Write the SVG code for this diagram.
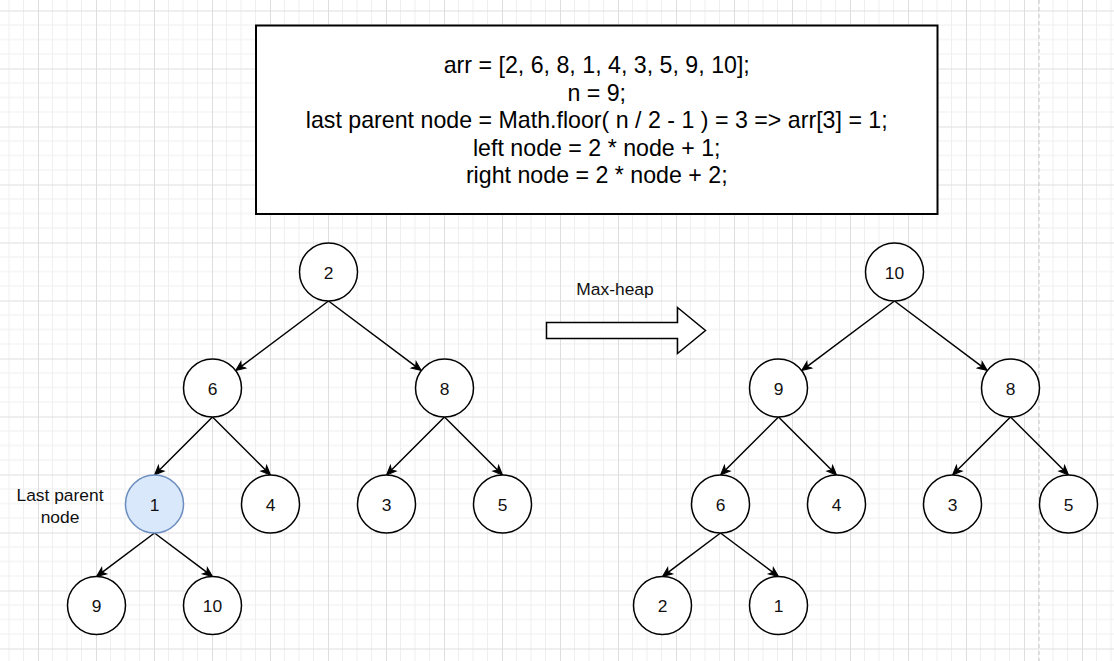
<svg xmlns="http://www.w3.org/2000/svg" width="1114" height="661" viewBox="0 0 1114 661">
<style>
.node circle{fill:#fff;stroke:#000;stroke-width:1.5}
.node text{font-family:"Liberation Sans",Arial,sans-serif;font-size:17.4px;fill:#111;text-anchor:middle}
.edge{stroke:#000;stroke-width:1.5;fill:none;marker-end:url(#arr)}
.lbl{font-family:"Liberation Sans",Arial,sans-serif;font-size:17.4px;fill:#111;text-anchor:middle}
.code{font-family:"Liberation Sans",Arial,sans-serif;font-size:23.2px;fill:#000;text-anchor:middle}
</style>
<defs>
<pattern id="grid" patternUnits="userSpaceOnUse" x="38" y="10.5" width="58" height="58">
<rect width="58" height="58" fill="#fff"/>
<path d="M14.5,0V58M29,0V58M43.5,0V58M0,14.5H58M0,29H58M0,43.5H58" stroke="#efefef" stroke-width="1"/>
<path d="M0.5,0V58M0,0.5H58" stroke="#dedede" stroke-width="1"/>
</pattern>
<marker id="arr" markerUnits="userSpaceOnUse" viewBox="-3 -5 11 10" markerWidth="11" markerHeight="10" refX="0" refY="0" orient="auto" overflow="visible">
<path d="M7,0 L-2.5,-4 L0,0 L-2.5,4 Z" fill="#000" stroke="#000" stroke-width="1"/>
</marker>
</defs>
<rect width="1114" height="661" fill="url(#grid)"/>
<line x1="1039" y1="0" x2="1039" y2="661" stroke="#c4c4c4" stroke-width="1" stroke-dasharray="4 3"/>

<g id="codebox">
<rect x="256" y="25.5" width="681.5" height="188.5" fill="#fff" stroke="#000" stroke-width="2"/>
<text class="code" x="596.75" y="73.3">arr = [2, 6, 8, 1, 4, 3, 5, 9, 10];</text>
<text class="code" x="596.75" y="100.8">n = 9;</text>
<text class="code" x="596.75" y="128.3">last parent node = Math.floor( n / 2 - 1 ) = 3 =&gt; arr[3] = 1;</text>
<text class="code" x="596.75" y="155.8">left node = 2 * node + 1;</text>
<text class="code" x="596.75" y="183.3">right node = 2 * node + 2;</text>
</g>

<g id="maxheap-arrow">
<polygon points="546.5,322.5 677.5,322.5 677.5,307.5 705.5,330.5 677.5,353.5 677.5,338.5 546.5,338.5" fill="#fff" stroke="#000" stroke-width="1.5"/>
<text class="lbl" x="615" y="294.5">Max-heap</text>
</g>

<g id="last-parent-label">
<text class="lbl" x="60" y="501">Last parent</text>
<text class="lbl" x="60" y="522.5">node</text>
</g>

<g id="connectors">
<line class="edge" x1="328.5" y1="301" x2="241.3" y2="366.4"/>
<line class="edge" x1="328.5" y1="301" x2="415.7" y2="366.4"/>
<line class="edge" x1="212.5" y1="417" x2="159.45" y2="470.05"/>
<line class="edge" x1="212.5" y1="417" x2="265.55" y2="470.05"/>
<line class="edge" x1="444.5" y1="417" x2="391.45" y2="470.05"/>
<line class="edge" x1="444.5" y1="417" x2="497.55" y2="470.05"/>
<line class="edge" x1="154.5" y1="533" x2="102.1" y2="572.3"/>
<line class="edge" x1="154.5" y1="533" x2="206.9" y2="572.3"/>
<line class="edge" x1="894.5" y1="301" x2="807.3" y2="366.4"/>
<line class="edge" x1="894.5" y1="301" x2="981.7" y2="366.4"/>
<line class="edge" x1="778.5" y1="417" x2="725.45" y2="470.05"/>
<line class="edge" x1="778.5" y1="417" x2="831.55" y2="470.05"/>
<line class="edge" x1="1010.5" y1="417" x2="957.45" y2="470.05"/>
<line class="edge" x1="1010.5" y1="417" x2="1063.55" y2="470.05"/>
<line class="edge" x1="720.5" y1="533" x2="668.1" y2="572.3"/>
<line class="edge" x1="720.5" y1="533" x2="772.9" y2="572.3"/>
</g>

<g id="L2" class="node"><circle cx="328.5" cy="272" r="29"/><text x="328.5" y="278.5">2</text></g>
<g id="L6" class="node"><circle cx="212.5" cy="388" r="29"/><text x="212.5" y="394.5">6</text></g>
<g id="L8" class="node"><circle cx="444.5" cy="388" r="29"/><text x="444.5" y="394.5">8</text></g>
<g id="L1" class="node"><circle cx="154.5" cy="504" r="29" style="fill:#dae8fc;stroke:#6c8ebf"/><text x="154.5" y="510.5">1</text></g>
<g id="L4" class="node"><circle cx="270.5" cy="504" r="29"/><text x="270.5" y="510.5">4</text></g>
<g id="L3" class="node"><circle cx="386.5" cy="504" r="29"/><text x="386.5" y="510.5">3</text></g>
<g id="L5" class="node"><circle cx="502.5" cy="504" r="29"/><text x="502.5" y="510.5">5</text></g>
<g id="L9" class="node"><circle cx="96.5" cy="605.5" r="29"/><text x="96.5" y="612">9</text></g>
<g id="L10" class="node"><circle cx="212.5" cy="605.5" r="29"/><text x="212.5" y="612">10</text></g>

<g id="R10" class="node"><circle cx="894.5" cy="272" r="29"/><text x="894.5" y="278.5">10</text></g>
<g id="R9" class="node"><circle cx="778.5" cy="388" r="29"/><text x="778.5" y="394.5">9</text></g>
<g id="R8" class="node"><circle cx="1010.5" cy="388" r="29"/><text x="1010.5" y="394.5">8</text></g>
<g id="R6" class="node"><circle cx="720.5" cy="504" r="29"/><text x="720.5" y="510.5">6</text></g>
<g id="R4" class="node"><circle cx="836.5" cy="504" r="29"/><text x="836.5" y="510.5">4</text></g>
<g id="R3" class="node"><circle cx="952.5" cy="504" r="29"/><text x="952.5" y="510.5">3</text></g>
<g id="R5" class="node"><circle cx="1068.5" cy="504" r="29"/><text x="1068.5" y="510.5">5</text></g>
<g id="R2" class="node"><circle cx="662.5" cy="605.5" r="29"/><text x="662.5" y="612">2</text></g>
<g id="R1" class="node"><circle cx="778.5" cy="605.5" r="29"/><text x="778.5" y="612">1</text></g>
</svg>
